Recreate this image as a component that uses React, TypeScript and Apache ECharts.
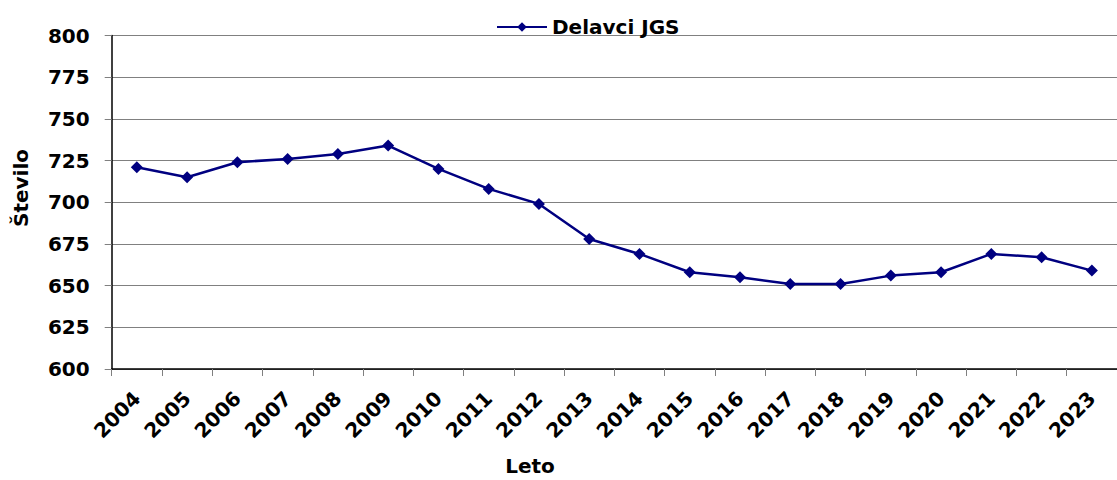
import React, { useEffect, useRef } from "react";
import * as echarts from "echarts";

const years = ["2004","2005","2006","2007","2008","2009","2010","2011","2012","2013","2014","2015","2016","2017","2018","2019","2020","2021","2022","2023"];
const workers = [721, 715, 724, 726, 729, 734, 720, 708, 699, 678, 669, 658, 655, 651, 651, 656, 658, 669, 667, 659];
const seriesName = "Delavci JGS";
const yAxisTitle = "Število";
const xAxisTitle = "Leto";

export default function App() {
  const ref = useRef<HTMLDivElement>(null);
  useEffect(() => {
    document.body.style.margin = "0";
    const chart = echarts.init(ref.current!, undefined, { renderer: "svg" });
    const font = "'DejaVu Sans', 'Liberation Sans', Arial, sans-serif";
    chart.setOption({
      animation: false,
      backgroundColor: "#ffffff",
      textStyle: { fontFamily: font },
      legend: {
        top: 12,
        left: 491,
        itemWidth: 50,
        itemHeight: 12,
        itemGap: 6,
        textStyle: { fontSize: 20, fontWeight: "bold", color: "#000", fontFamily: font },
        data: [seriesName],
      },
      grid: { left: 111.7, right: -10.5, top: 35.5, bottom: 111, containLabel: false },
      xAxis: {
        type: "category",
        data: years,
        boundaryGap: true,
        axisLine: { lineStyle: { color: "#000", width: 1.5 } },
        axisTick: { show: true, alignWithLabel: false, length: 7, lineStyle: { color: "#808080" } },
        axisLabel: {
          rotate: 45,
          interval: 0,
          margin: 26,
          fontSize: 20,
          fontWeight: "bold",
          color: "#000",
          fontFamily: font,
        },
        splitLine: { show: false },
      },
      yAxis: {
        type: "value",
        min: 600,
        max: 800,
        interval: 25,
        axisLine: { show: true, lineStyle: { color: "#000", width: 1.5 } },
        axisTick: { show: true, length: 7, lineStyle: { color: "#808080" } },
        axisLabel: { margin: 22, fontSize: 20, fontWeight: "bold", color: "#000", fontFamily: font },
        splitLine: { show: true, lineStyle: { color: "#808080", width: 1 } },
      },
      graphic: [
        {
          type: "text",
          x: 21,
          y: 188,
          rotation: Math.PI / 2,
          style: { text: yAxisTitle, align: "center", verticalAlign: "middle", fontSize: 20, fontWeight: "bold", fill: "#000", fontFamily: font },
        },
        {
          type: "text",
          x: 530,
          y: 466,
          style: { text: xAxisTitle, align: "center", verticalAlign: "middle", fontSize: 20, fontWeight: "bold", fill: "#000", fontFamily: font },
        },
      ],
      series: [
        {
          name: seriesName,
          type: "line",
          data: workers,
          symbol: "diamond",
          symbolSize: 12,
          lineStyle: { color: "#000080", width: 2.5 },
          itemStyle: { color: "#000080" },
        },
      ],
    });
    return () => chart.dispose();
  }, []);
  return <div ref={ref} style={{ width: 1117, height: 480 }} />;
}
